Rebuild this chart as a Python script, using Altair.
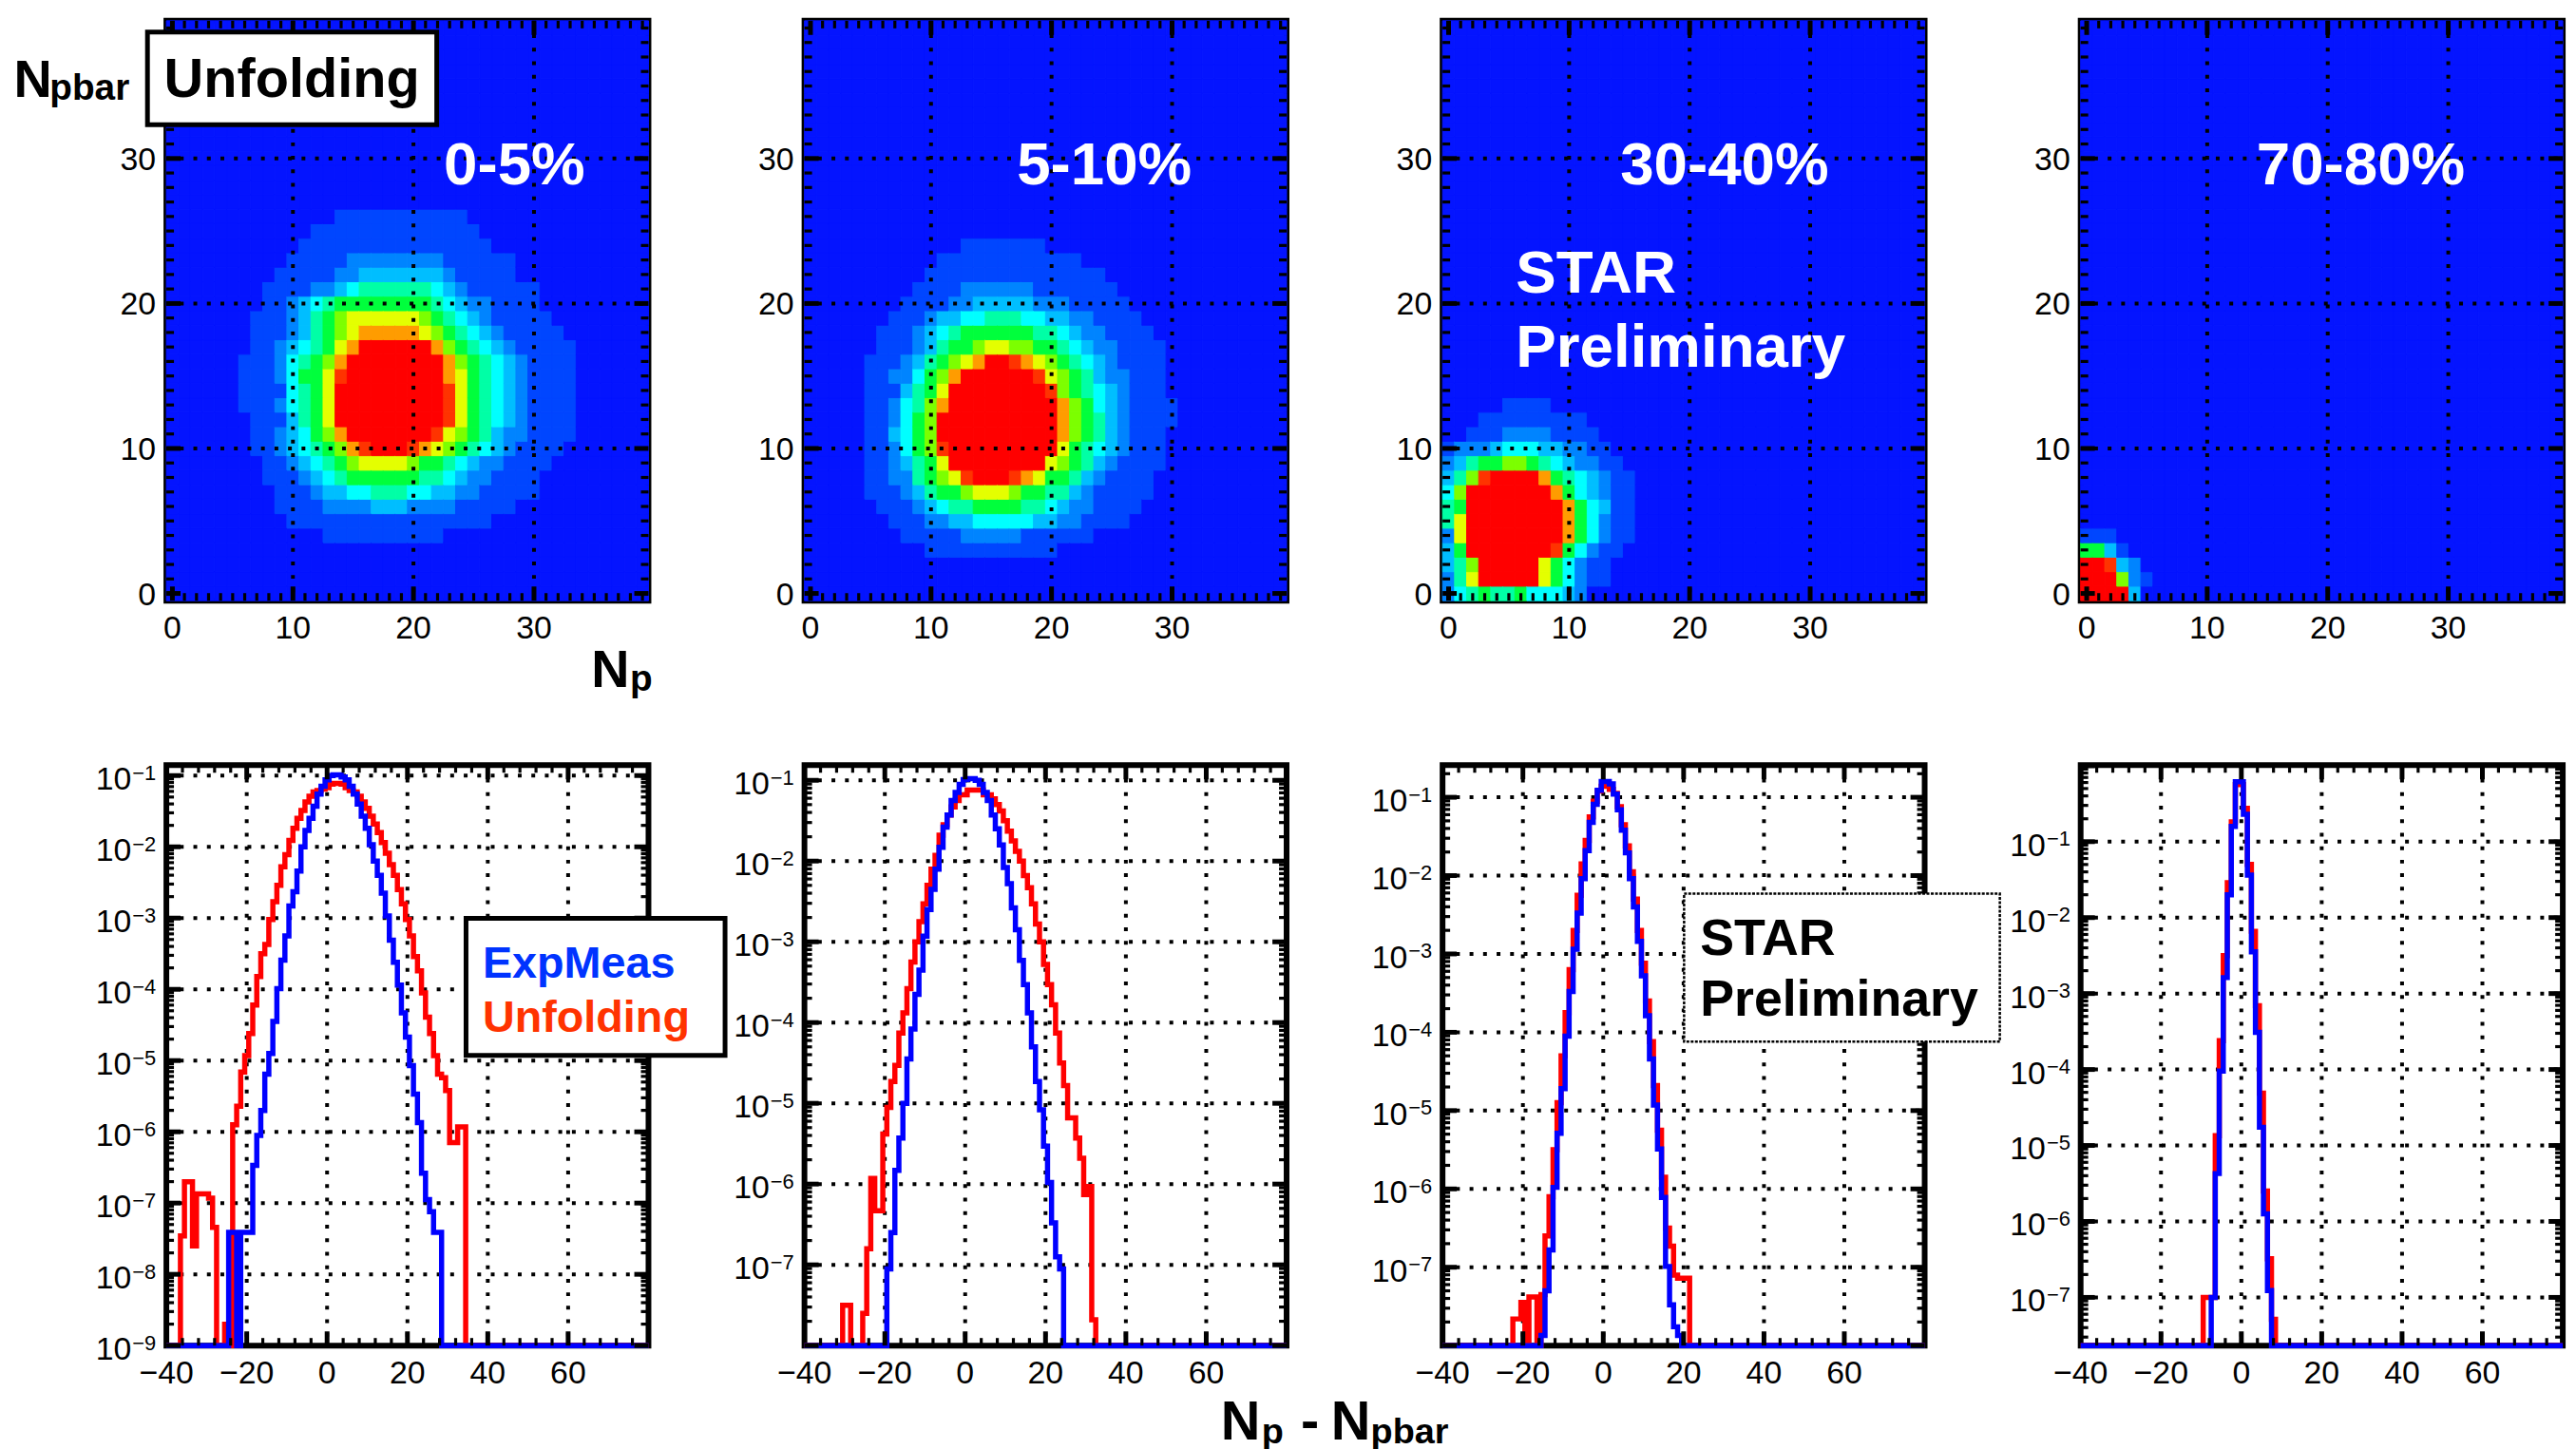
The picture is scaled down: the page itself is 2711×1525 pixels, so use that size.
import altair as alt
import pandas as pd

FONT = "Liberation Sans"

# colour scale of the 2D multiplicity maps, lowest to highest level
LEVEL_COLORS = ["#0414FF", "#0046FF", "#0084FF", "#00BEFF", "#00FFFF", "#00FFA6",
                "#00FF3C", "#7CFF00", "#E4FF00", "#FF9C00", "#FF3300", "#FF0000"]
LEVEL_KEYS = list("0123456789AB")

CENTRALITY = ["0-5%", "5-10%", "30-40%", "70-80%"]

# unfolded (N_p, N_pbar) maps: first N_p column, top N_pbar row, level rows from top to bottom
MAP_0_5 = (5, 26, [
    "00000000011111111111000000000",
    "00000001111111111111100000000",
    "00000011111111111111110000000",
    "00000111112222222211111100000",
    "00001111122333333321111100000",
    "00011112234555555432111111000",
    "00011234566666666543221111000",
    "00111235678888887654321111100",
    "00111235678999998765432111110",
    "00112345689BBBBBB976543211111",
    "0111245679BBBBBBBB97654321111",
    "011124668ABBBBBBBB98654321111",
    "011114568BBBBBBBBBA8654321111",
    "011124568BBBBBBBBBA8654321111",
    "001113568BBBBBBBBBA8654321111",
    "0011234679BBBBBBBA87653221111",
    "00112345679ABBBA9876543211110",
    "00011234567888876654322111100",
    "00011123456666665543221111000",
    "00001112334455544332211111000",
    "00001111222233322221111100000",
    "00000111111111111111110000000",
    "00000000111111111100000000000",
])
MAP_5_10 = (4, 24, [
    "000000000111111100000000000",
    "000000011111111111100000000",
    "000000111111111111111000000",
    "000001111222222111111100000",
    "000011112233333222111110000",
    "000111233445554433221111000",
    "001112345666666554322111100",
    "001112356678877665432211110",
    "01112356789BBA9876543211110",
    "011224679BBBBBBA87653221110",
    "01113568BBBBBBBBA7654321110",
    "01124579BBBBBBBBB9764321111",
    "0112467BBBBBBBBBB9765321111",
    "0113467BBBBBBBBBB9765321110",
    "0112467ABBBBBBBBB8654321110",
    "01123568BBBBBBBB87653211110",
    "011225678ABBBA9866532111100",
    "011123566788876655321111100",
    "001112345566665543221111000",
    "000111223344444332211110000",
    "000011111222221111110000000",
    "000000111111111110000000000",
])
MAP_30_40 = (0, 13, [
    "0000011110000000",
    "0001111111110000",
    "0011122221111000",
    "1222344433221100",
    "2356677654322110",
    "357ABBBB96543211",
    "47BBBBBBB9643211",
    "56BBBBBBBB964311",
    "58BBBBBBBB964211",
    "28BBBBBBBB964211",
    "36BBBBBBBA642110",
    "357BBBBB86421100",
    "258BBBBB86421100",
    "2456556444320000",
])
MAP_70_80 = (0, 4, [
    "111000",
    "663100",
    "BBA320",
    "BBB721",
    "BBBB30",
])
MAPS = [MAP_0_5, MAP_5_10, MAP_30_40, MAP_70_80]
MAP_TICKS = [0, 10, 20, 30]

# N_p - N_pbar distributions: first bin, log10 of the probability in each bin (None = empty)
EXPMEAS_0_5 = (-24, [-7.41, -7.41, None, -7.41, -7.41, -7.41, -6.47, -6.05, -5.70, -5.19,
                     -4.90, -4.45, -3.99, -3.59, -3.25, -2.83, -2.63, -2.34, -2.00, -1.77,
                     -1.60, -1.43, -1.26, -1.15, -1.06, -1.00, -0.99, -0.99, -1.02, -1.06,
                     -1.15, -1.26, -1.40, -1.57, -1.74, -1.97, -2.20, -2.40, -2.65, -2.97,
                     -3.31, -3.62, -3.94, -4.33, -4.67, -5.07, -5.47, -5.87, -6.58, -6.95,
                     -7.12, -7.41, -7.41])
UNFOLD_0_5 = (-36, [-7.46, -6.70, -6.70, -7.60, -6.87, -6.87, -6.87, -6.93, -7.34, None,
                    None, -8.70, None, -5.90, -5.64, -5.16, -4.93, -4.62, -4.22, -3.82,
                    -3.50, -3.37, -3.02, -2.77, -2.54, -2.28, -2.11, -1.91, -1.74, -1.60,
                    -1.49, -1.37, -1.29, -1.23, -1.21, -1.19, -1.17, -1.12, -1.11, -1.11,
                    -1.12, -1.17, -1.21, -1.23, -1.29, -1.37, -1.46, -1.57, -1.68, -1.80,
                    -1.94, -2.09, -2.25, -2.40, -2.60, -2.80, -3.02, -3.25, -3.54, -3.74,
                    -4.05, -4.39, -4.62, -4.93, -5.19, -5.24, -5.42, -6.15, -6.15, -5.93,
                    -5.93])
EXPMEAS_5_10 = (-19, [-7.05, -6.60, -5.83, -5.43, -5.00, -4.45, -4.08, -3.65, -3.35, -2.93,
                      -2.60, -2.35, -2.10, -1.83, -1.58, -1.43, -1.25, -1.15, -1.05, -0.99,
                      -0.98, -0.98, -1.00, -1.05, -1.15, -1.25, -1.43, -1.60, -1.80, -2.08,
                      -2.28, -2.58, -2.85, -3.23, -3.53, -3.88, -4.30, -4.73, -5.08, -5.53,
                      -5.98, -6.48, -6.90, -7.05])
UNFOLD_5_10 = (-30, [-7.50, -7.50, None, None, None, -7.60, -6.80, -5.93, -6.33, -6.33,
                     -5.38, -5.05, -4.73, -4.53, -4.13, -3.88, -3.58, -3.25, -3.00, -2.75,
                     -2.53, -2.30, -2.10, -1.93, -1.68, -1.55, -1.43, -1.33, -1.25, -1.18,
                     -1.18, -1.12, -1.12, -1.12, -1.12, -1.18, -1.18, -1.23, -1.30, -1.38,
                     -1.50, -1.63, -1.75, -1.88, -2.00, -2.18, -2.33, -2.53, -2.78, -3.00,
                     -3.28, -3.53, -3.78, -4.13, -4.50, -4.78, -5.18, -5.18, -5.43, -5.68,
                     -6.13, -6.03, -7.68])
EXPMEAS_30_40 = (-15, [-7.87, -7.30, -6.78, -5.98, -5.29, -4.72, -4.05, -3.48, -2.94, -2.48,
                       -2.04, -1.68, -1.32, -1.09, -0.91, -0.80, -0.80, -0.83, -0.96, -1.16,
                       -1.42, -1.71, -2.04, -2.40, -2.84, -3.28, -3.79, -4.34, -4.93, -5.49,
                       -6.11, -6.99, -7.48, -7.76, -7.87])
UNFOLD_30_40 = (-22, [-7.66, -7.66, -7.45, None, -7.38, -7.38, None, -7.35, -6.60, -6.10,
                      -5.50, -4.90, -4.30, -3.75, -3.20, -2.70, -2.25, -1.85, -1.55, -1.25,
                      -1.05, -0.92, -0.86, -0.85, -0.90, -0.95, -1.12, -1.35, -1.62, -1.95,
                      -2.30, -2.70, -3.12, -3.60, -4.12, -4.68, -5.25, -5.85, -6.50, -6.73,
                      -7.10, -7.14, -7.14, -7.14])
EXPMEAS_70_80 = (-7, [-7.00, -5.37, -4.02, -2.79, -1.70, -0.80, -0.21, -0.21, -0.64, -1.44,
                      -2.45, -3.51, -4.76, -5.90, -6.91])
UNFOLD_70_80 = (-9, [-7.00, -7.00, -7.00, -4.87, -3.62, -2.50, -1.54, -0.74, -0.25, -0.25,
                     -0.56, -1.30, -2.18, -3.16, -4.31, -5.60, -6.49, -7.29])
EXPMEAS = [EXPMEAS_0_5, EXPMEAS_5_10, EXPMEAS_30_40, EXPMEAS_70_80]
UNFOLD = [UNFOLD_0_5, UNFOLD_5_10, UNFOLD_30_40, UNFOLD_70_80]

# vertical range of each distribution panel and its labelled decades
HIST_YRANGE = [(1e-9, 0.14), (1e-8, 0.154), (1e-8, 0.257), (2.32e-8, 1.016)]
HIST_DECADES = [list(range(-1, -10, -1)), list(range(-1, -8, -1)),
                list(range(-1, -8, -1)), list(range(-1, -8, -1))]
HIST_XTICKS = [-40, -20, 0, 20, 40, 60]

W, H_MAP, H_HIST = 510, 613.5, 614
DOT = [4, 10.3]
LABEL_SIZE = 34
LINE_W = 5.5


def num_text(v):
    return ("\u2212%d" % -v) if v < 0 else "%d" % v


def text_layer(text, x, y, size, color="black", weight="bold", align="left"):
    return alt.Chart(pd.DataFrame({"t": [text]})).mark_text(
        text=text, font=FONT, fontSize=size, fontWeight=weight, color=color,
        align=align, baseline="alphabetic"
    ).encode(x=alt.value(x), y=alt.value(y))


def box_layer(x0, y0, x1, y1, width, dash=None):
    kw = dict(fill="white")
    if width:
        kw.update(stroke="black", strokeWidth=width)
    if dash:
        kw["strokeDash"] = dash
    return alt.Chart(pd.DataFrame({"b": [0]})).mark_rect(**kw).encode(
        x=alt.value(x0), x2=alt.value(x1), y=alt.value(y0), y2=alt.value(y1))


def grid_layers(xvals, yvals, xsc, ysc, w, h):
    gx = alt.Chart(pd.DataFrame({"t": xvals})).mark_rule(
        color="black", strokeWidth=4, strokeDash=DOT).encode(
        x=alt.X("t:Q", scale=xsc, axis=None), y=alt.value(0), y2=alt.value(h))
    gy = alt.Chart(pd.DataFrame({"t": yvals})).mark_rule(
        color="black", strokeWidth=4, strokeDash=DOT).encode(
        y=alt.Y("t:Q", scale=ysc, axis=None), x=alt.value(0), x2=alt.value(w))
    return [gx, gy]


def xlabel_layer(vals, xsc, h):
    d = pd.DataFrame({"t": vals, "s": [num_text(v) for v in vals]})
    return alt.Chart(d).mark_text(font=FONT, fontSize=LABEL_SIZE, align="center",
                                  baseline="alphabetic").encode(
        x=alt.X("t:Q", scale=xsc, axis=None), y=alt.value(h + 40), text="s:N")


def tick_layers(xmaj, xmin, ymaj, ymin, xsc, ysc, w, h, lmaj=15, lmin=8):
    out = []
    for vals, ln, sw in [(xmaj, lmaj, 5), (xmin, lmin, 3.2)]:
        d = pd.DataFrame({"t": vals})
        for y0, y1 in [(h - ln, h), (0, ln)]:
            out.append(alt.Chart(d).mark_rule(color="black", strokeWidth=sw).encode(
                x=alt.X("t:Q", scale=xsc, axis=None), y=alt.value(y0), y2=alt.value(y1)))
    for vals, ln, sw in [(ymaj, lmaj, 5), (ymin, lmin, 3.2)]:
        d = pd.DataFrame({"t": vals})
        for x0, x1 in [(0, ln), (w - ln, w)]:
            out.append(alt.Chart(d).mark_rule(color="black", strokeWidth=sw).encode(
                y=alt.Y("t:Q", scale=ysc, axis=None), x=alt.value(x0), x2=alt.value(x1)))
    return out


def map_cells(spec):
    col0, top, rows = spec
    grid = {}
    for r, line in enumerate(rows):
        for c, ch in enumerate(line):
            grid[(col0 + c, top - r)] = ch
    recs = []
    for p in range(40):
        for q in range(40):
            recs.append({"np0": p - 0.5, "np1": p + 0.5, "nb0": q - 0.5, "nb1": q + 0.5,
                         "level": grid.get((p, q), "0")})
    return pd.DataFrame(recs)


def map_panel(i):
    sc = alt.Scale(domain=[-0.5, 39.5], nice=False, zero=False)
    cs = alt.Scale(domain=LEVEL_KEYS, range=LEVEL_COLORS)
    heat = alt.Chart(map_cells(MAPS[i])).mark_rect(strokeWidth=1).encode(
        x=alt.X("np0:Q", scale=sc, axis=None),
        x2="np1:Q",
        y=alt.Y("nb0:Q", scale=sc, axis=None),
        y2="nb1:Q",
        fill=alt.Fill("level:N", scale=cs, legend=None),
        stroke=alt.Stroke("level:N", scale=cs, legend=None),
    )
    ylab = pd.DataFrame({"t": MAP_TICKS, "s": [num_text(v) for v in MAP_TICKS]})
    ylabels = alt.Chart(ylab).mark_text(font=FONT, fontSize=LABEL_SIZE, align="right",
                                        baseline="alphabetic", dy=12).encode(
        y=alt.Y("t:Q", scale=sc, axis=None), x=alt.value(-11), text="s:N")
    minor = [v for v in range(40) if v % 10]
    layers = [heat] + grid_layers([10, 20, 30], [10, 20, 30], sc, sc, W, H_MAP)
    layers += tick_layers(MAP_TICKS, minor, MAP_TICKS, minor, sc, sc, W, H_MAP)
    layers += [xlabel_layer(MAP_TICKS, sc, H_MAP), ylabels]
    label_x = [293.5, 224.7, 188, 186][i]
    layers.append(text_layer(CENTRALITY[i], label_x, 173, 64, color="white"))
    if i == 0:
        layers.append(box_layer(-172.5, -15, -171.5, -14, 0))
        layers.append(box_layer(-20, 12, 286, 110, 5))
        layers.append(text_layer("Unfolding", -2.5, 81, 58))
        layers.append(text_layer("N", -161.5, 81, 56))
        layers.append(text_layer("pbar", -123.5, 84, 39))
        layers.append(text_layer("N", 449.5, 705, 56))
        layers.append(text_layer("p", 490.5, 709, 39))
    if i == 2:
        layers.append(text_layer("STAR", 77.6, 288, 64, color="white"))
        layers.append(text_layer("Preliminary", 77.6, 366, 64, color="white"))
    return alt.layer(*layers).properties(width=W, height=H_MAP)


def hist_frame(spec, lo):
    start, logs = spec
    vals = {start + j: v for j, v in enumerate(logs)}

    def prob(k):
        v = vals.get(k)
        return lo if v is None else 10 ** v

    xs = [-40.0] + [k - 0.5 for k in range(-39, 81)] + [80.0]
    ys = [prob(-40)] + [prob(k) for k in range(-39, 81)] + [prob(80)]
    return pd.DataFrame({"d": xs, "prob": ys})


def hist_panel(i):
    lo, hi = HIST_YRANGE[i]
    xsc = alt.Scale(domain=[-40, 80], nice=False, zero=False)
    ysc = alt.Scale(type="log", domain=[lo, hi], nice=False)
    decades = [10.0 ** e for e in range(-9, 1) if lo * 0.999 <= 10.0 ** e <= hi]
    red = alt.Chart(hist_frame(UNFOLD[i], lo)).mark_line(
        interpolate="step-after", strokeWidth=LINE_W, color="#FF0000", strokeCap="butt"
    ).encode(x=alt.X("d:Q", scale=xsc, axis=None), y=alt.Y("prob:Q", scale=ysc, axis=None))
    blue = alt.Chart(hist_frame(EXPMEAS[i], lo)).mark_line(
        interpolate="step-after", strokeWidth=LINE_W, color="#0000FF", strokeCap="butt"
    ).encode(x=alt.X("d:Q", scale=xsc, axis=None), y=alt.Y("prob:Q", scale=ysc, axis=None))

    exps = HIST_DECADES[i]
    lab = pd.DataFrame({"v": [10.0 ** e for e in exps], "e": [num_text(e) for e in exps]})
    tens = alt.Chart(lab).mark_text(text="10", font=FONT, fontSize=LABEL_SIZE, align="right",
                                    baseline="alphabetic", dy=15).encode(
        y=alt.Y("v:Q", scale=ysc, axis=None), x=alt.value(-37))
    expo = alt.Chart(lab).mark_text(font=FONT, fontSize=22, align="left",
                                    baseline="alphabetic", dy=4.5).encode(
        y=alt.Y("v:Q", scale=ysc, axis=None), x=alt.value(-36), text="e:N")

    xmaj = [-20, 0, 20, 40, 60]
    xmin = [v for v in range(-36, 80, 4) if v % 20]
    ymin = [m * 10.0 ** e for e in range(-10, 1) for m in range(2, 10) if lo < m * 10.0 ** e < hi]
    layers = grid_layers(xmaj, decades, xsc, ysc, W, H_HIST) + [red, blue, tens, expo]
    layers += tick_layers(xmaj, xmin, decades, ymin, xsc, ysc, W, H_HIST)
    layers.append(xlabel_layer(HIST_XTICKS, xsc, H_HIST))
    if i == 0:
        layers.append(box_layer(317, 162, 591, 307, 5))
        layers.append(text_layer("ExpMeas", 334.5, 225, 47, color="#0033FF"))
        layers.append(text_layer("Unfolding", 334.5, 282, 47, color="#FF3300"))
    if i == 1:
        layers.append(text_layer("N", 440.5, 713, 58))
        layers.append(text_layer("p", 483.5, 717, 38))
        layers.append(text_layer("-", 525, 713, 58))
        layers.append(text_layer("N", 557, 713, 58))
        layers.append(text_layer("pbar", 599, 717, 38))
    if i == 2:
        layers.append(box_layer(255.5, 136, 589.5, 292.5, 2.5, dash=[3, 1.5]))
        layers.append(text_layer("STAR", 272.5, 201, 54))
        layers.append(text_layer("Preliminary", 272.5, 265, 54))
    if i == 3:
        layers.append(box_layer(512.5, 722, 513.5, 723, 0))
    return alt.layer(*layers).properties(width=W, height=H_HIST)


panels = [map_panel(i) for i in range(4)] + [hist_panel(i) for i in range(4)]
chart = alt.concat(*panels, columns=4, spacing={"row": 173.5, "column": 165},
                   bounds="flush").properties(
    padding=0, background="white"
).configure_view(stroke="black", strokeWidth=6)

chart.save("out.html", embed_options={"renderer": "svg", "actions": False})
